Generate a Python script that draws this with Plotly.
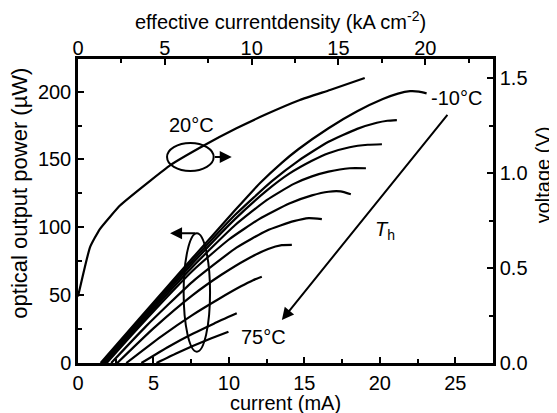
import plotly.graph_objects as go

# ---- data ----
# L-I curves (current in mA, optical power in µW), from -10°C (top) to 75°C (bottom)
I_c1 = [1.5, 4.0, 7.6, 10.4, 12.1, 13.5, 14.6, 16.6, 18.5, 20.2, 21.2, 22.0, 22.6, 23.1]
P_c1 = [0, 31.8, 77.5, 112.5, 133, 147.5, 157.5, 173, 185.5, 194.5, 198.5, 200.3, 200, 198.7]
I_c2 = [1.6, 4.0, 7.6, 10.4, 12.85, 14.6, 16.6, 18.5, 19.8, 20.5, 21.13]
P_c2 = [0, 30.5, 75.5, 109, 134, 149, 163, 172.5, 177, 178.5, 179]
I_c3 = [1.7, 4.0, 7.6, 10.4, 12.5, 14.0, 15.5, 16.6, 18.0, 19.2, 20.14]
P_c3 = [0, 29, 73.5, 106, 127, 139.5, 149, 154.6, 159, 160.8, 161.2]
I_c4 = [1.8, 4.0, 7.6, 10.4, 12.5, 14.3, 15.5, 16.6, 18.0, 19.08]
P_c4 = [0, 27.5, 71, 101.5, 120, 132, 137.5, 141, 143.5, 143.5]
I_c5 = [1.9, 4.0, 7.6, 10.0, 12.0, 14.0, 15.5, 16.6, 17.4, 18.08]
P_c5 = [0, 26, 68, 91, 106, 117.5, 123.5, 126.2, 126.4, 124.3]
I_c6 = [2.2, 4.5, 7.6, 10.5, 12.5, 14.3, 15.3, 16.16]
P_c6 = [0, 27, 60, 85, 97.5, 104.5, 106.8, 106]
I_c7 = [2.6, 5.0, 7.6, 9.5, 11.2, 12.6, 13.5, 14.17]
P_c7 = [0, 25.5, 50, 65, 76.5, 84, 86.8, 87]
I_c8 = [3.2, 5.5, 7.6, 9.3, 10.8, 11.6, 12.18]
P_c8 = [0, 19.5, 35.5, 47, 56.5, 61, 63.6]
I_c9 = [4.2, 6.0, 7.6, 9.0, 10.52]
P_c9 = [0, 12, 21.5, 29, 36.6]
I_c10 = [5.2, 6.5, 7.6, 8.8, 9.97]
P_c10 = [0, 7, 12.5, 18, 23.1]

# voltage at 20°C (current in mA, voltage in V)
I_volt = [0, 0.8, 1.45, 2.8, 4.8, 6.1, 8.4, 10.5, 12.5, 14.7, 16.7, 19.0]
V_volt = [0.35, 0.61, 0.705, 0.83, 0.96, 1.04, 1.147, 1.235, 1.31, 1.384, 1.437, 1.50]

# axis ticks
current_ticks = [0, 5, 10, 15, 20, 25]
density_ticks = [0, 5, 10, 15, 20]
power_ticks = [0, 50, 100, 150, 200]
volt_ticks = [0.0, 0.5, 1.0, 1.5]

curves_I = [I_c1, I_c2, I_c3, I_c4, I_c5, I_c6, I_c7, I_c8, I_c9, I_c10]
curves_P = [P_c1, P_c2, P_c3, P_c4, P_c5, P_c6, P_c7, P_c8, P_c9, P_c10]

FONT = "Liberation Sans, Arial, sans-serif"
TICK_SIZE = 20
TITLE_SIZE = 20

fig = go.Figure()
for I, P in zip(curves_I, curves_P):
    fig.add_trace(go.Scatter(x=I, y=P, mode="lines",
                             line=dict(color="black", width=2.2, shape="spline", smoothing=0.5),
                             showlegend=False, hoverinfo="skip"))
fig.add_trace(go.Scatter(x=I_volt, y=V_volt, mode="lines", yaxis="y2",
                         line=dict(color="black", width=2.2, shape="spline", smoothing=0.4),
                         showlegend=False, hoverinfo="skip"))
# invisible trace to carry the top axis
fig.add_trace(go.Scatter(x=density_ticks, y=[None] * len(density_ticks), xaxis="x2",
                         mode="lines", showlegend=False, hoverinfo="skip"))

axis_common = dict(showline=True, linecolor="black", linewidth=2.5, ticks="inside",
                   ticklen=6, tickwidth=2, tickcolor="black", showgrid=False, zeroline=False,
                   automargin=False,
                   tickfont=dict(family=FONT, size=TICK_SIZE, color="black"))
minor_common = dict(ticks="inside", ticklen=4, tickwidth=2, tickcolor="black", showgrid=False)

# the page body adds an 8 px offset, so the figure is 8 px smaller on each side
fig.update_layout(
    width=549, height=405,
    margin=dict(l=70, r=64, t=51, b=50),
    paper_bgcolor="white", plot_bgcolor="white",
    font=dict(family=FONT, size=TITLE_SIZE, color="black"),
    hovermode=False,
    xaxis=dict(range=[0, 27.5], tickvals=current_ticks, minor=dict(dtick=2.5, **minor_common),
               ticklabelstandoff=0, **axis_common),
    xaxis2=dict(range=[0, 23.9], overlaying="x", side="top", anchor="y", tickvals=density_ticks,
                minor=dict(dtick=2.5, **minor_common), ticklabelstandoff=-7, **axis_common),
    yaxis=dict(range=[0, 224], tickvals=power_ticks, minor=dict(dtick=25, **minor_common),
               **axis_common),
    yaxis2=dict(range=[0, 1.6], overlaying="y", side="right", anchor="x", tickvals=volt_ticks,
                tickformat=".1f", minor=dict(dtick=0.25, **minor_common), **axis_common),
)

# axis titles
fig.add_annotation(text="current (mA)", xref="paper", yref="paper", x=0.5, y=-0.133,
                   showarrow=False, font=dict(size=TITLE_SIZE), xanchor="center", yanchor="middle")
fig.add_annotation(text="effective currentdensity (kA cm<sup>-2</sup>)", xref="paper", yref="paper",
                   x=0.487, y=1.128, showarrow=False, font=dict(size=TITLE_SIZE),
                   xanchor="center", yanchor="middle")
fig.add_annotation(text="optical output power (µW)", xref="paper", yref="paper", x=-0.14, y=0.56,
                   textangle=-90, showarrow=False, font=dict(size=22), xanchor="center", yanchor="middle")
fig.add_annotation(text="voltage (V)", xref="paper", yref="paper", x=1.12, y=0.62,
                   textangle=-90, showarrow=False, font=dict(size=TITLE_SIZE), xanchor="center",
                   yanchor="middle")

# labels in plot
fig.add_annotation(text="20°C", x=7.54, y=1.253, xref="x", yref="y2", showarrow=False,
                   font=dict(size=TITLE_SIZE))
fig.add_annotation(text="-10°C", x=25.05, y=195.6, xref="x", yref="y", showarrow=False,
                   font=dict(size=TITLE_SIZE))
fig.add_annotation(text="75°C", x=12.29, y=19.4, xref="x", yref="y", showarrow=False,
                   font=dict(size=TITLE_SIZE))
fig.add_annotation(text="<i>T</i><sub>h</sub>", x=20.36, y=98, xref="x", yref="y", showarrow=False,
                   font=dict(size=TITLE_SIZE))

# arrows
fig.add_annotation(x=13.51, y=31.7, ax=24.56, ay=184, xref="x", yref="y", axref="x", ayref="y",
                   showarrow=True, arrowhead=2, arrowsize=1.2, arrowwidth=2, arrowcolor="black", text="")
fig.add_annotation(x=10.19, y=1.084, ax=8.97, ay=1.084, xref="x", yref="y2", axref="x", ayref="y2",
                   showarrow=True, arrowhead=2, arrowsize=1.2, arrowwidth=2, arrowcolor="black", text="")
fig.add_annotation(x=6.1, y=95.6, ax=7.86, ay=95.6, xref="x", yref="y", axref="x", ayref="y",
                   showarrow=True, arrowhead=2, arrowsize=1.2, arrowwidth=2, arrowcolor="black", text="")

# ellipses
fig.add_shape(type="circle", xref="x", yref="y2", x0=5.9, x1=8.99, y0=1.0105, y1=1.158,
              line=dict(color="black", width=2))
fig.add_shape(type="circle", xref="x", yref="y", x0=7.0, x1=8.75, y0=8.3, y1=95.6,
              line=dict(color="black", width=2))

fig.write_html("out.html")
